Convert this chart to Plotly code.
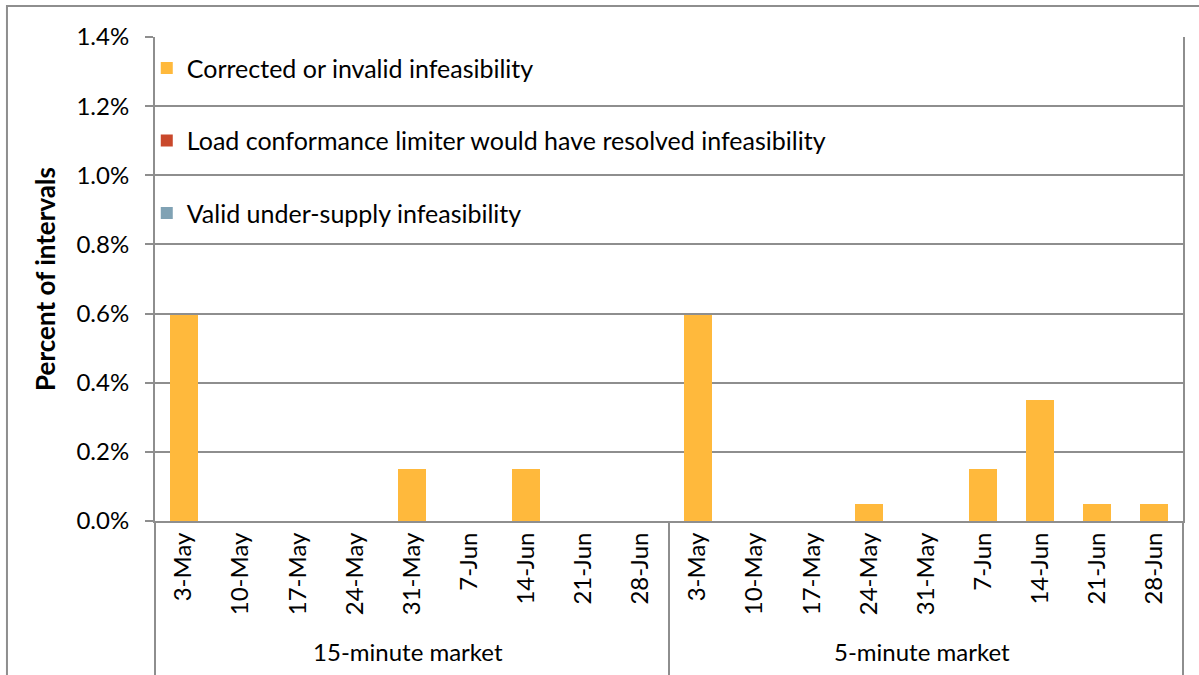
import plotly.graph_objects as go

weeks = ["3-May", "10-May", "17-May", "24-May", "31-May", "7-Jun", "14-Jun", "21-Jun", "28-Jun"]
markets = ["15-minute market", "5-minute market"]

corrected_15 = [0.595, 0, 0, 0, 0.15, 0, 0.15, 0, 0]
corrected_5 = [0.595, 0, 0, 0.05, 0, 0.15, 0.35, 0.05, 0.05]
lcl_15 = [0, 0, 0, 0, 0, 0, 0, 0, 0]
lcl_5 = [0, 0, 0, 0, 0, 0, 0, 0, 0]
valid_15 = [0, 0, 0, 0, 0, 0, 0, 0, 0]
valid_5 = [0, 0, 0, 0, 0, 0, 0, 0, 0]

series_names = [
    "Corrected or invalid infeasibility",
    "Load conformance limiter would have resolved infeasibility",
    "Valid under-supply infeasibility",
]
series_colors = ["#FFB93C", "#C9482B", "#80A2B4"]

x_outer = [markets[0]] * len(weeks) + [markets[1]] * len(weeks)
x_inner = weeks + weeks
series_values = [corrected_15 + corrected_5, lcl_15 + lcl_5, valid_15 + valid_5]

FONT = "Lato"
GRID = "#8E8E8E"

fig = go.Figure()
for i, (name, vals, col) in enumerate(zip(series_names, series_values, series_colors)):
    fig.add_trace(go.Bar(
        x=[x_outer, x_inner], y=vals, name=name,
        marker=dict(color=col, line=dict(width=0)),
        legendgroup=f"g{i}",
    ))

fig.update_layout(
    width=1199, height=675,
    margin=dict(l=155, r=16, t=37, b=154),
    barmode="stack", bargap=0.51,
    paper_bgcolor="white", plot_bgcolor="white",
    font=dict(family=FONT, size=24, color="#000000"),
    legend=dict(
        x=-0.008, y=0.983, xanchor="left", yanchor="top",
        bgcolor="rgba(0,0,0,0)", tracegroupgap=37,
        font=dict(family=FONT, size=25), itemwidth=30,
    ),
    showlegend=True,
)
fig.update_yaxes(
    range=[0, 1.4], dtick=0.2, tickformat=".1f", ticksuffix="%",
    showgrid=True, gridcolor=GRID, gridwidth=2,
    showline=True, linecolor=GRID, linewidth=2, mirror=True,
    ticks="outside", ticklen=8, tickcolor=GRID, tickwidth=2,
    ticklabelstandoff=11, automargin=False,
    zeroline=False,
    title=dict(text="<b>Percent of intervals</b>", font=dict(family=FONT, size=26), standoff=13),
    tickfont=dict(family=FONT, size=24),
)
fig.update_xaxes(
    type="multicategory", tickangle=-90,
    showline=True, linecolor=GRID, linewidth=2,
    ticks="", showdividers=False, automargin=False,
    tickfont=dict(family=FONT, size=24),
)

# group dividers
for xp in [0, 0.5, 1]:
    fig.add_shape(type="line", xref="paper", yref="paper", x0=xp, x1=xp, y0=0, y1=-0.4,
                  line=dict(color=GRID, width=2))
# outer chart frame
fig.add_shape(type="rect", xref="paper", yref="paper", x0=-0.144, x1=1.1, y0=-0.5, y1=1.064,
              line=dict(color=GRID, width=2), fillcolor="rgba(0,0,0,0)", layer="below")

fig.write_html("out.html", config={"displayModeBar": False},
               post_script="document.body.style.margin='0px';")
